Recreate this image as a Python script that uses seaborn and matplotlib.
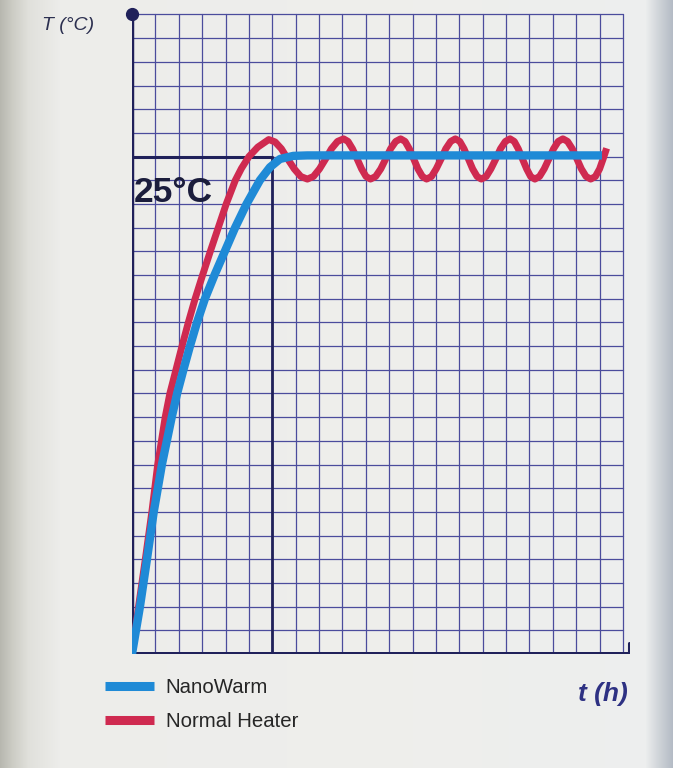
import numpy as np
import pandas as pd
import matplotlib
matplotlib.use("Agg")
import matplotlib.pyplot as plt
from matplotlib.lines import Line2D
import seaborn as sns

# ---------------- data (grid units) ----------------
nano_t = [0.0, 0.34, 0.64, 0.93, 1.28, 1.70, 1.93, 2.2, 2.48, 2.78, 3.12, 3.53, 3.97,
          4.41, 4.9, 5.47, 5.9, 6.33, 6.9, 7.5, 20.1]
nano_T = [0.0, 2.0, 4.0, 6.0, 8.0, 10.0, 11.0, 12.0, 13.0, 14.0, 15.0, 16.0, 17.0,
          18.0, 19.0, 20.0, 20.55, 20.9, 21.03, 21.05, 21.05]

heater_t = [0.0, 0.28, 0.57, 0.85, 1.10, 1.42, 1.62, 1.88, 2.14, 2.41, 2.70, 3.02, 3.35,
            3.69, 4.03, 4.42, 4.68, 5.0, 5.38, 5.85,
            6.12, 6.39, 6.66, 6.94, 7.22, 7.5,
            7.76, 8.02, 8.28, 8.53, 8.79, 9.05,
            9.24, 9.43, 9.63, 9.82, 10.01, 10.2,
            10.42, 10.64, 10.85, 11.06, 11.28, 11.49,
            11.68, 11.86, 12.05, 12.23, 12.42, 12.6,
            12.81, 13.01, 13.22, 13.42, 13.63, 13.83,
            14.02, 14.2, 14.39, 14.57, 14.76, 14.94,
            15.15, 15.35, 15.56, 15.76, 15.97, 16.17,
            16.35, 16.52, 16.7, 16.88, 17.05, 17.23,
            17.43, 17.63, 17.83, 18.03, 18.23, 18.43,
            18.63, 18.83, 19.03, 19.22, 19.42, 19.62,
            19.82, 20.0, 20.15, 20.3]
heater_T = [0.0, 2.0, 4.0, 6.0, 8.0, 10.0, 11.0, 12.0, 13.0, 14.0, 15.0, 16.0, 17.0,
            18.0, 19.0, 20.0, 20.5, 21.0, 21.4, 21.72,
            21.62, 21.33, 20.9, 20.48, 20.16, 20.05,
            20.16, 20.48, 20.9, 21.33, 21.64, 21.75,
            21.64, 21.33, 20.9, 20.48, 20.16, 20.05,
            20.16, 20.48, 20.9, 21.33, 21.64, 21.75,
            21.64, 21.33, 20.9, 20.48, 20.16, 20.05,
            20.16, 20.48, 20.9, 21.33, 21.64, 21.75,
            21.64, 21.33, 20.9, 20.48, 20.16, 20.05,
            20.16, 20.48, 20.9, 21.33, 21.64, 21.75,
            21.64, 21.33, 20.9, 20.48, 20.16, 20.05,
            20.16, 20.48, 20.9, 21.33, 21.64, 21.75,
            21.64, 21.33, 20.9, 20.48, 20.16, 20.05,
            20.16, 20.48, 20.9, 21.35]

series_names = ["NanoWarm", "Normal Heater"]
grid_cols = 21
grid_rows = 27
setpoint_row = 21
setpoint_col = 6
setpoint_label = "25°C"
y_label = "T (°C)"
x_label = "t (h)"

# ---------------- styling ----------------
sns.set_theme(style="white")
plt.rcParams["font.family"] = ["Liberation Sans", "DejaVu Sans"]

BLUE = "#1f8ad6"
RED = "#cf2a50"
GRID = "#4b4c9c"
AXIS = "#20215a"
PAPER = "#eeeeec"

fig = plt.figure(figsize=(6.73, 7.68), dpi=100)
fig.patch.set_facecolor(PAPER)

# photo background (package edges)
bg = fig.add_axes([0, 0, 1, 1], zorder=-10)
grad = np.ones((2, 673, 3))
cols = np.array([[0.72, 0.72, 0.69], [0.80, 0.80, 0.77], [0.88, 0.88, 0.86],
                 [0.93, 0.93, 0.92], [0.935, 0.935, 0.925], [0.93, 0.935, 0.935],
                 [0.80, 0.82, 0.84], [0.70, 0.73, 0.77]])
stops = np.array([0, 12, 28, 60, 400, 645, 660, 673])
px = np.arange(673)
for c in range(3):
    grad[:, :, c] = np.interp(px, stops, cols[:, c])
bg.imshow(grad, aspect="auto", extent=[0, 1, 0, 1])
bg.set_axis_off()

ax = fig.add_axes([132 / 673, 114 / 768, 498 / 673, 649 / 768])
ax.set_facecolor("none")
for s in ax.spines.values():
    s.set_visible(False)

# grid
for i in range(1, grid_cols + 1):
    ax.plot([i, i], [0, grid_rows], color=GRID, lw=0.9, zorder=1)
for j in range(1, grid_rows + 1):
    ax.plot([0, grid_cols], [j, j], color=GRID, lw=0.9, zorder=1)

# setpoint guide lines
ax.plot([0, setpoint_col], [setpoint_row, setpoint_row], color=AXIS, lw=2.2, zorder=2)
ax.plot([setpoint_col, setpoint_col], [0, setpoint_row], color=AXIS, lw=2.0, zorder=2)

# axes
ax.plot([0, 0], [0, grid_rows], color=AXIS, lw=3.2, zorder=3, solid_capstyle="butt")
ax.plot([0, 21.25], [0, 0], color=AXIS, lw=3.6, zorder=3, solid_capstyle="butt")
ax.plot([21.25, 21.25], [-0.3, 0.45], color=AXIS, lw=2.2, zorder=3)
ax.plot([0], [grid_rows], marker="o", color=AXIS, markersize=8.5, zorder=4, clip_on=False)

# curves
df = pd.concat([
    pd.DataFrame({"t": nano_t, "T": nano_T, "series": series_names[0]}),
    pd.DataFrame({"t": heater_t, "T": heater_T, "series": series_names[1]}),
], ignore_index=True)
sns.lineplot(data=df[df.series == series_names[1]], x="t", y="T", color=RED, lw=5.0,
             sort=False, estimator=None, ax=ax, zorder=5, legend=False,
             solid_capstyle="butt", solid_joinstyle="round")
sns.lineplot(data=df[df.series == series_names[0]], x="t", y="T", color=BLUE, lw=6.0,
             sort=False, estimator=None, ax=ax, zorder=6, legend=False,
             solid_capstyle="butt", solid_joinstyle="round")
ax.set_xlabel("")
ax.set_ylabel("")
ax.set_xticks([])
ax.set_yticks([])
ax.set_xlim(0, 21.3)
ax.set_ylim(0, 27.4)

# texts
ax.text(1.75, 19.5, setpoint_label, fontsize=25.5, fontweight="bold", color="#1b1d3c",
        ha="center", va="center", zorder=7)
fig.text(68 / 673, 1 - 26 / 768, y_label, fontsize=14, style="italic", color="#2c3050",
         ha="center", va="center")
fig.text(603 / 673, 1 - 694 / 768, x_label, fontsize=19, style="italic", fontweight="bold",
         color="#2e3183", ha="center", va="center")

# legend
handles = [Line2D([0], [0], color=BLUE, lw=6.5, solid_capstyle="butt"),
           Line2D([0], [0], color=RED, lw=6.5, solid_capstyle="butt")]
leg = fig.legend(handles, series_names, loc="upper left",
                 bbox_to_anchor=(87 / 673, 1 - 660 / 768), frameon=False,
                 fontsize=14.7, handlelength=2.4, handletextpad=0.55, labelspacing=0.7)
for t in leg.get_texts():
    t.set_color("#262626")

fig.savefig("out.png", dpi=100, facecolor=fig.get_facecolor())
